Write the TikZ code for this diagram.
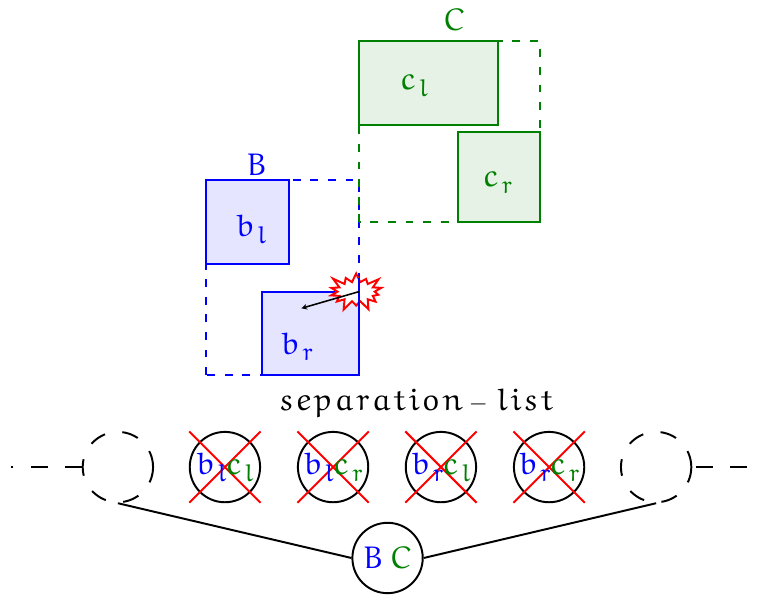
\documentclass[tikz,border=0pt]{standalone}
\usepackage{amsmath}
\usepackage{amssymb}
\usepackage{tikz}
\usetikzlibrary{shapes}
\usetikzlibrary{shapes.symbols,shapes.misc,positioning}
\font\eufont=eurm10 at 32pt
\font\eusub=eurm10 at 25pt
\colorlet{cgreen}{green!50!black}
\tikzset{bdash/.style={draw=blue, line width=2pt, dash pattern=on 8pt off 10pt}}
\tikzset{cdash/.style={draw=cgreen, line width=2pt, dash pattern=on 8pt off 10pt}}
\tikzset{bbox/.style={rectangle, draw=blue, fill=blue!10, line width=2pt, inner sep=0pt}}
\tikzset{cbox/.style={rectangle, draw=cgreen, fill=cgreen!10, line width=2pt, inner sep=0pt}}
\tikzset{list node/.style={circle, draw, line width=2pt, minimum size=72pt, inner sep=0pt}}
\tikzset{list dash/.style={line width=2pt, dash pattern=on 17pt off 18pt}}
\tikzset{sep cross/.style={cross out, draw=red, line width=2pt, minimum size=71pt, inner sep=0pt}}
\tikzset{tree edge/.style={draw=black, line width=2pt}}
\newcommand{\eusubs}[2]{#1\kern3pt\lower7pt\hbox{\eusub #2}}
\newcommand{\bl}{{\color{blue}\eusubs{b}{l}}}
\newcommand{\br}{{\color{blue}\eusubs{b}{r}}}
\newcommand{\cl}{{\color{cgreen}\eusubs{c}{l}}}
\newcommand{\cvirt}{{\color{cgreen}\eusubs{c}{r}}}
\newcommand{\lsp}{\kern2.4pt}

\begin{document}
\begin{tikzpicture}
      [font=\eufont]
      \useasboundingbox (-7.41,-7.99) rectangle (20.07,13.49);

      \draw [bdash] (0,0) rectangle (5.5,7);
      \draw [cdash] (5.5,5.5) rectangle (12,12);

      \node [bbox, minimum width=3cm, minimum height=3cm]     (bl) at (1.5,5.5)  {};
      \node [bbox, minimum width=3.5cm, minimum height=3cm]   (br) at (3.75,1.5) {};
      \node [cbox, minimum width=5cm, minimum height=3cm]     (cl) at (8,10.5)   {};
      \node [cbox, minimum width=2.94cm, minimum height=3.25cm]  (cr) at (10.53,7.125) {};

      \node (bllabel) at (1.62,5.25)  {\bl};
      \node (brlabel) at (3.27,1.02)  {\br};
      \node (cllabel) at (7.5,10.4)   {\cl};
      \node (crlabel) at (10.5,6.9)   {\cvirt};

      \node [text=blue]   (B) at (1.83,7.55)  {B};
      \node [text=cgreen] (C) at (8.92,12.77) {C};

      \node [starburst, draw=red, fill=white, line width=2pt, minimum width=62pt, minimum height=44pt,
        inner sep=0pt, starburst points=14, starburst point height=12pt] (hit) at (5.4,3) {};
      \coordinate (corner) at (5.5,3);
      \coordinate (target) at (3.43,2.4);
      \coordinate (hittop) at (5.5,3.5);
      \coordinate (hitbot) at (5.5,2.5);
      \draw [blue, line width=2pt] (hittop) -- (hitbot);
      \draw [-stealth, line width=1.6pt] (corner) -- (target);

      \node (sep) at (7.57,-1.0) {s\lsp e\lsp p\lsp a\lsp r\lsp a\lsp t\lsp i\lsp o\lsp n\kern6pt\hbox{\fontsize{36}{40}\selectfont$-$}\kern9pt l\lsp i\lsp s\lsp t};

      \node [list node, dash pattern=on 17pt off 18pt] (left)  at (-3.17,-3.31) {};
      \node [list node] (n1) at (0.68,-3.31)  {};
      \node [list node] (n2) at (4.57,-3.31)  {};
      \node [list node] (n3) at (8.45,-3.31)  {};
      \node [list node] (n4) at (12.34,-3.31) {};
      \node [list node, dash pattern=on 17pt off 18pt] (right) at (16.19,-3.31) {};
      \node [list node] (bc) at (6.53,-6.58)  {{\color{blue}B}\kern6pt{\color{cgreen}C}};

      \node [sep cross] (x1) at (n1) {};
      \node [sep cross] (x2) at (n2) {};
      \node [sep cross] (x3) at (n3) {};
      \node [sep cross] (x4) at (n4) {};

      \node (t1) at (n1) {\bl\cl};
      \node (t2) at (n2) {\bl\cvirt};
      \node (t3) at (n3) {\br\cl};
      \node (t4) at (n4) {\br\cvirt};

      \coordinate (lfree) at (-7.02,-3.31);
      \coordinate (rfree) at (19.5,-3.31);
      \draw [list dash] (left) -- (lfree);
      \draw [list dash, dash phase=31pt] (right) -- (rfree);
      \draw [tree edge] (left.south) -- (bc.west);
      \draw [tree edge] (right.south) -- (bc.east);
    \end{tikzpicture}
\end{document}
